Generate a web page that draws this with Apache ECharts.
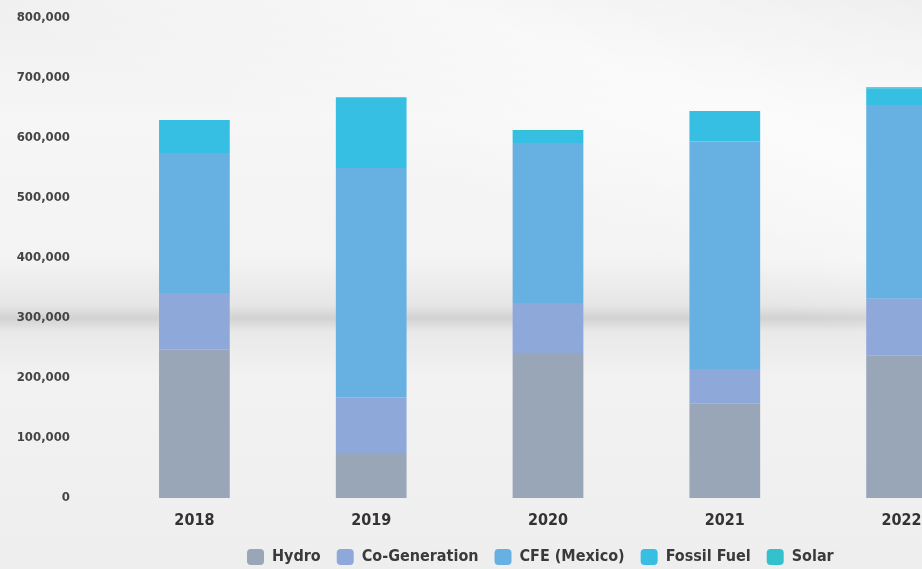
<!DOCTYPE html>
<html>
<head>
<meta charset="utf-8">
<script src="https://cdn.jsdelivr.net/npm/echarts@6/dist/echarts.min.js"></script>
<style>
html,body{margin:0;padding:0;overflow:hidden;width:922px;height:569px;}
#bg{position:absolute;left:0;top:0;width:922px;height:569px;
background:
 linear-gradient(200deg, rgba(255,255,255,0) 0%, rgba(255,255,255,0.55) 20%, rgba(255,255,255,0) 40%),
 linear-gradient(to bottom, #efefef 0px, #f6f6f6 120px, #f3f3f3 260px, #e6e6e6 305px, #d2d2d2 318px, #e9e9e9 332px, #f2f2f2 380px, #eeeeee 569px);}
#chart{position:absolute;left:0;top:0;width:990px;height:569px;}
</style>
</head>
<body>
<div id="bg"></div>
<div id="chart"></div>
<script>
const categories = ['2018','2019','2020','2021','2022'];
const hydro      = [247000, 75000, 241700, 157000, 238000];
const coGen      = [94700, 93000, 83300, 58000, 94000];
const cfe        = [233300, 382000, 266700, 379000, 323000];
const fossil     = [55000, 118000, 20000, 51000, 28000];
const solar      = [0, 0, 1500, 0, 1500];
const seriesNames = ['Hydro','Co-Generation','CFE (Mexico)','Fossil Fuel','Solar'];
const seriesColors = ['#98a6b8','#8fa8da','#66b1e2','#36bfe3','#33c1cb'];
const yTicks = [0,100000,200000,300000,400000,500000,600000,700000,800000];

const font = "'DejaVu Sans Condensed'";
const chart = echarts.init(document.getElementById('chart'), null, {renderer:'canvas'});
const dataSets = [hydro, coGen, cfe, fossil, solar];
chart.setOption({
  backgroundColor: 'transparent',
  animation: false,
  color: seriesColors,
  grid: {left: 106, right: 0, top: 18, bottom: 71, containLabel: false},
  legend: {
    left: 247, top: 549, padding: 0, icon: 'roundRect', itemWidth: 17, itemHeight: 16, itemGap: 16,
    data: seriesNames,
    textStyle: {fontFamily: font, fontWeight: 'bold', fontSize: 16, color: '#3a3a3a', padding: [0,0,0,3]}
  },
  xAxis: {
    type: 'category', data: categories,
    axisLine: {show: false}, axisTick: {show: false},
    axisLabel: {fontFamily: font, fontWeight: 'bold', fontSize: 16, color: '#333', margin: 15}
  },
  yAxis: {
    type: 'value', min: yTicks[0], max: yTicks[yTicks.length-1], interval: yTicks[1]-yTicks[0],
    splitLine: {show: false}, axisLine: {show: false}, axisTick: {show: false},
    axisLabel: {fontFamily: font, fontWeight: 'bold', fontSize: 13, color: '#444', margin: 36,
      formatter: v => v.toLocaleString('en-US')}
  },
  series: seriesNames.map((n, i) => ({
    name: n, type: 'bar', stack: 'total', barWidth: '40%', data: dataSets[i],
    itemStyle: {color: seriesColors[i]}
  }))
});
</script>
</body>
</html>
